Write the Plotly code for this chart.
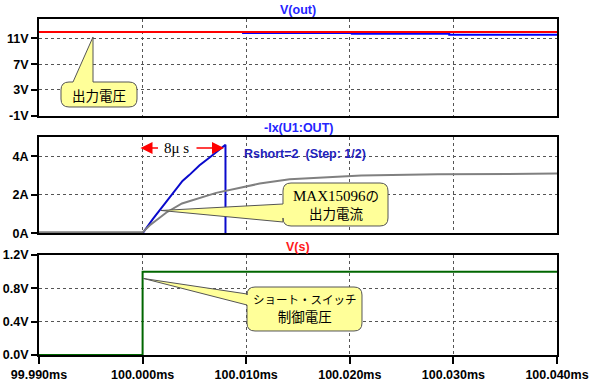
import plotly.graph_objects as go

# ---------------- data ----------------
# time axis in ms
x_ticks = [99.990, 100.000, 100.010, 100.020, 100.030, 100.040]
x_ticktext = ["99.990ms", "100.000ms", "100.010ms", "100.020ms", "100.030ms", "100.040ms"]

# V(out)
vout_red_t = [99.990, 100.040]
vout_red_v = [12.0, 12.0]
vout_blue_t = [100.0096, 100.0202, 100.0296, 100.040]
vout_blue_v = [11.82, 11.70, 11.56, 11.56]
vout_ticks = [-1, 3, 7, 11]
vout_ticktext = ["-1V", "3V", "7V", "11V"]

# -Ix(U1:OUT)
i_blue_t = [99.990, 100.000, 100.0010, 100.0020, 100.0032, 100.00385, 100.0045, 100.0055,
            100.0065, 100.0073, 100.0080, 100.0080]
i_blue_v = [0.0, 0.0, 0.75, 1.45, 2.30, 2.72, 3.02, 3.53, 3.95, 4.30, 4.60, 0.0]
i_gray_t = [99.990, 100.000, 100.0007, 100.0016, 100.0023, 100.0038, 100.0071, 100.0113,
            100.0142, 100.0211, 100.0285, 100.040]
i_gray_v = [0.05, 0.05, 0.42, 0.80, 1.08, 1.55, 2.10, 2.58, 2.80, 3.00, 3.06, 3.10]
i_ticks = [0, 2, 4]
i_ticktext = ["0A", "2A", "4A"]

# V(s)
vs_t = [99.990, 100.000, 100.040]
vs_v = [0.0, 1.0, 1.0]
vs_ticks = [0.0, 0.4, 0.8, 1.2]
vs_ticktext = ["0.0V", "0.4V", "0.8V", "1.2V"]

# ---------------- layout geometry ----------------
W, H = 592, 384
L, R, T, B = 39, 557, 19, 355  # plot area in px


def px(xp):
    return (xp - L) / (R - L)


def py(yp):
    return (B - yp) / (B - T)


fig = go.Figure()

fig.add_trace(go.Scatter(x=vout_blue_t, y=vout_blue_v, mode="lines", line=dict(color="#0000ff", width=2, shape="hv"),
                         xaxis="x", yaxis="y", showlegend=False, hoverinfo="skip"))
fig.add_trace(go.Scatter(x=vout_red_t, y=vout_red_v, mode="lines", line=dict(color="#ff0000", width=2),
                         xaxis="x", yaxis="y", showlegend=False, hoverinfo="skip"))
fig.add_trace(go.Scatter(x=i_blue_t, y=i_blue_v, mode="lines", line=dict(color="#0a0acc", width=2),
                         xaxis="x2", yaxis="y2", showlegend=False, hoverinfo="skip"))
fig.add_trace(go.Scatter(x=i_gray_t, y=i_gray_v, mode="lines", line=dict(color="#808080", width=2),
                         xaxis="x2", yaxis="y2", showlegend=False, hoverinfo="skip"))
fig.add_trace(go.Scatter(x=vs_t, y=vs_v, mode="lines", line=dict(color="#006600", width=2, shape="hv"),
                         xaxis="x3", yaxis="y3", showlegend=False, hoverinfo="skip"))

tickfont = dict(family="Liberation Sans", size=12.5, color="black", weight="bold")
common_x = dict(range=[99.990, 100.040], tickvals=x_ticks, showgrid=True, gridcolor="#555555",
                griddash="3px,3px", gridwidth=1, showline=True, linecolor="black", linewidth=2,
                mirror=True, zeroline=False, fixedrange=True, automargin=False)
common_y = dict(showgrid=True, gridcolor="#555555", griddash="3px,3px", gridwidth=1, showline=True,
                linecolor="black", linewidth=2, mirror=True, zeroline=False, ticks="outside",
                ticklen=6, tickwidth=2, tickcolor="black", tickfont=tickfont, automargin=False,
                fixedrange=True)

fig.update_layout(
    width=W, height=H, margin=dict(l=L, r=W - R, t=T, b=H - B),
    paper_bgcolor="white", plot_bgcolor="white",
    xaxis=dict(common_x, domain=[0, 1], anchor="y", showticklabels=False, ticks=""),
    xaxis2=dict(common_x, domain=[0, 1], anchor="y2", showticklabels=False, ticks="", matches="x"),
    xaxis3=dict(common_x, domain=[0, 1], anchor="y3", ticktext=x_ticktext, ticks="outside",
                ticklen=7, tickwidth=2, tickcolor="black", tickfont=tickfont, matches="x"),
    yaxis=dict(common_y, domain=[py(115.7), py(T)], range=[-1, 14], tickvals=vout_ticks, ticktext=vout_ticktext),
    yaxis2=dict(common_y, domain=[py(233.3), py(137)], range=[0, 5], tickvals=i_ticks, ticktext=i_ticktext),
    yaxis3=dict(common_y, domain=[py(B), py(255)], range=[0, 1.2], tickvals=vs_ticks, ticktext=vs_ticktext),
)

# ---------------- callouts ----------------
def callout(x0, y0, x1, y1, tip, base, side, r=8):
    def P(x, y):
        return f"{px(x):.5f},{py(y):.5f}"
    s = f"M {P(x0 + r, y0)}"
    if side == "top":
        s += f" L {P(base[0], y0)} L {P(*tip)} L {P(base[1], y0)}"
    s += f" L {P(x1 - r, y0)} Q {P(x1, y0)} {P(x1, y0 + r)}"
    s += f" L {P(x1, y1 - r)} Q {P(x1, y1)} {P(x1 - r, y1)}"
    s += f" L {P(x0 + r, y1)} Q {P(x0, y1)} {P(x0, y1 - r)}"
    if side == "left":
        s += f" L {P(x0, base[1])} L {P(*tip)} L {P(x0, base[0])}"
    s += f" L {P(x0, y0 + r)} Q {P(x0, y0)} {P(x0 + r, y0)} Z"
    fig.add_shape(type="path", path=s, xref="paper", yref="paper",
                  fillcolor="#ffff99", line=dict(color="#555555", width=1), layer="above")


callout(61, 82, 137, 107, (93, 37), (73, 93), "top")
callout(283, 183, 388, 226, (161, 210.5), (204, 222), "left")
callout(247, 287, 362, 331, (143.5, 278.5), (294, 305), "left")

cjk = "Noto Sans CJK JP"
anns = []
anns.append(dict(x=px(99), y=py(94.5), text="出力電圧", font=dict(family=cjk, size=13.5, color="black")))
anns.append(dict(x=px(335.5), y=py(204.5),
                 text="<span style='font-family:Liberation Serif;font-size:15px'>MAX15096</span>の<br>出力電流",
                 font=dict(family=cjk, size=13.5, color="black")))
anns.append(dict(x=px(304.5), y=py(308.5),
                 text="<span style='font-size:11.5px'>ショート・スイッチ</span><br>制御電圧",
                 font=dict(family=cjk, size=13.5, color="black")))

# titles
title_font = dict(family="Liberation Sans", size=12.5, weight="bold")
anns.append(dict(x=0.5, y=py(10), text="V(out)", font=dict(title_font, color="#2424ff")))
anns.append(dict(x=0.5, y=py(128), text="-Ix(U1:OUT)", font=dict(title_font, color="#2424ff")))
anns.append(dict(x=0.5, y=py(247), text="V(s)", font=dict(title_font, color="#ff1a1a")))
anns.append(dict(x=px(242), y=py(154), xanchor="left", text="Rshort=2  (Step: 1/2)",
                 font=dict(title_font, color="#2222bb")))

# 8us label and arrows
anns.append(dict(x=px(176), y=py(148), text="8μ s", font=dict(family="Liberation Serif", size=15, color="black")))
for tip_x, off in [(140.5, 19), (224, -29)]:
    anns.append(dict(x=px(tip_x), y=py(148), ax=off, ay=0, text="", showarrow=True,
                     arrowhead=2, arrowsize=1.6, arrowwidth=1.5, arrowcolor="#ff0000"))

for a in anns:
    a.setdefault("xref", "paper")
    a.setdefault("yref", "paper")
    a.setdefault("showarrow", False)
    a.setdefault("xanchor", "center")
    a.setdefault("yanchor", "middle")
    fig.add_annotation(**a)

fig.write_html("out.html", config={"displayModeBar": False, "staticPlot": True},
               post_script="document.body.style.margin='0';document.body.style.overflow='hidden';")
